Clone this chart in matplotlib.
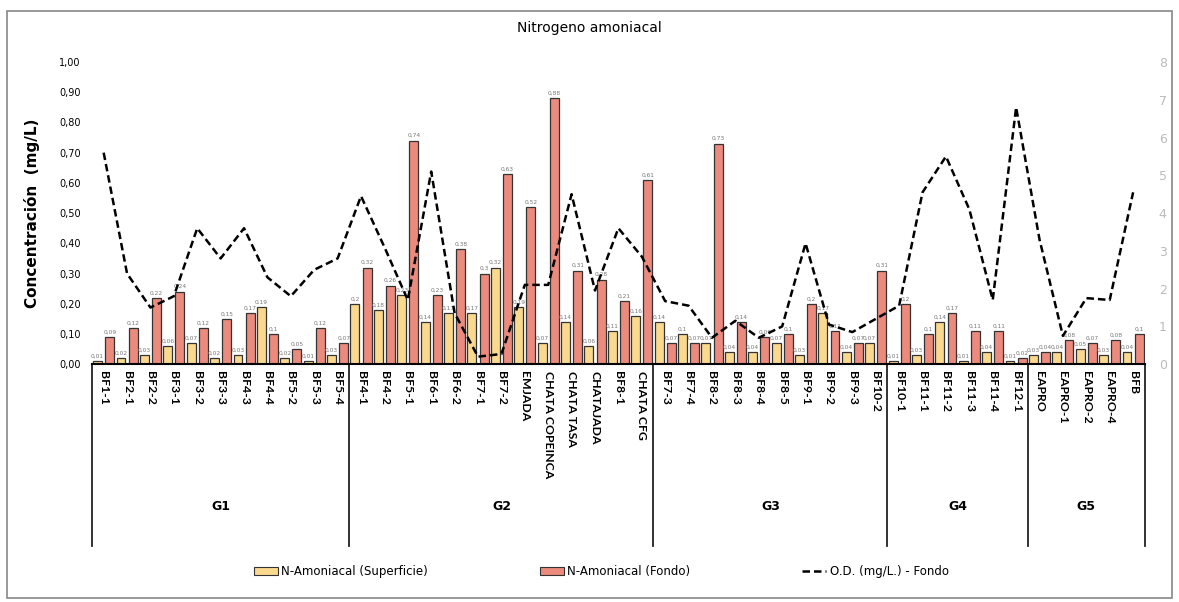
import matplotlib.pyplot as plt
from matplotlib.patches import Rectangle
from matplotlib.lines import Line2D
import numpy as np

categories = ['BF1-1', 'BF2-1', 'BF2-2', 'BF3-1', 'BF3-2', 'BF3-3', 'BF4-3', 'BF4-4', 'BF5-2', 'BF5-3', 'BF5-4',
              'BF4-1', 'BF4-2', 'BF5-1', 'BF6-1', 'BF6-2', 'BF7-1', 'BF7-2', 'EMJADA', 'CHATA COPEINCA',
              'CHATA TASA', 'CHATAJADA', 'BF8-1', 'CHATA CFG',
              'BF7-3', 'BF7-4', 'BF8-2', 'BF8-3', 'BF8-4', 'BF8-5', 'BF9-1', 'BF9-2', 'BF9-3', 'BF10-2',
              'BF10-1', 'BF11-1', 'BF11-2', 'BF11-3', 'BF11-4', 'BF12-1',
              'EAPRO', 'EAPRO-1', 'EAPRO-2', 'EAPRO-4', 'BFB']
groups = ['G1', 'G2', 'G3', 'G4', 'G5']
group_sizes = [11, 13, 10, 6, 5]

superficie = [0.01, 0.02, 0.03, 0.06, 0.07, 0.02, 0.03, 0.19, 0.02, 0.01, 0.03,
              0.20, 0.18, 0.23, 0.14, 0.17, 0.17, 0.32, 0.19, 0.07, 0.14, 0.06, 0.11, 0.16,
              0.14, 0.10, 0.07, 0.04, 0.04, 0.07, 0.03, 0.17, 0.04, 0.07,
              0.01, 0.03, 0.14, 0.01, 0.04, 0.01,
              0.03, 0.04, 0.05, 0.03, 0.04]
fondo = [0.09, 0.12, 0.22, 0.24, 0.12, 0.15, 0.17, 0.10, 0.05, 0.12, 0.07,
         0.32, 0.26, 0.74, 0.23, 0.38, 0.30, 0.63, 0.52, 0.88, 0.31, 0.28, 0.21, 0.61,
         0.07, 0.07, 0.73, 0.14, 0.09, 0.10, 0.20, 0.11, 0.07, 0.31,
         0.20, 0.10, 0.17, 0.11, 0.11, 0.02,
         0.04, 0.08, 0.07, 0.08, 0.10]
od_fondo = [5.6, 2.4, 1.5, 1.8, 3.6, 2.8, 3.6, 2.3, 1.8, 2.5, 2.8,
            4.45, 3.1, 1.7, 5.1, 1.35, 0.2, 0.27, 2.1, 2.1, 4.5, 1.95, 3.6, 2.85,
            1.67, 1.55, 0.7, 1.15, 0.7, 1.0, 3.2, 1.05, 0.85, 1.2,
            1.55, 4.55, 5.5, 4.1, 1.7, 6.8,
            3.3, 0.75, 1.75, 1.7, 4.55]

yellow = '#FAD98E'
red = '#EC8A7E'


def fmt(v):
    s = ('%.2f' % v).rstrip('0').rstrip('.')
    return s.replace('.', ',')


fig = plt.figure(figsize=(11.79, 6.02), dpi=100)
ax = fig.add_axes([0.078, 0.395, 0.893, 0.502])
x = np.arange(len(categories))
w = 0.38

ax.bar(x - 0.26, superficie, w, color=yellow, edgecolor='#333333', linewidth=0.9, zorder=2)
ax.bar(x + 0.26, fondo, w, color=red, edgecolor='#333333', linewidth=0.9, zorder=2)
for xi, s, f in zip(x, superficie, fondo):
    ax.text(xi - 0.26, s + 0.008, fmt(s), ha='center', va='bottom', fontsize=4.2, color='#777777')
    ax.text(xi + 0.26, f + 0.008, fmt(f), ha='center', va='bottom', fontsize=4.2, color='#777777')

ax.set_xlim(-0.5, len(categories) - 0.5)
ax.set_ylim(0, 1.0)
ax.set_yticks(np.arange(0, 1.01, 0.1))
ax.set_yticklabels([('%.2f' % t).replace('.', ',') for t in np.arange(0, 1.01, 0.1)], fontsize=7)
ax.tick_params(axis='y', length=0, pad=8)
ax.set_xticks(x)
ax.set_xticklabels(categories, rotation=-90, fontsize=8.8, fontweight='bold', family='Lato')
ax.tick_params(axis='x', length=0, pad=5)
for side in ['top', 'right', 'left']:
    ax.spines[side].set_visible(False)
ax.spines['bottom'].set_linewidth(1.5)
ax.set_ylabel('Concentración  (mg/L)', fontsize=11, fontweight='bold', labelpad=14)

ax2 = ax.twinx()
ax2.plot(x, od_fondo, color='black', linestyle=(0, (3, 1.6)), linewidth=1.8, zorder=3)
ax2.set_ylim(0, 8)
ax2.set_yticks(range(0, 9))
ax2.tick_params(axis='y', length=0, labelsize=9, labelcolor='#BBBBBB', pad=10)
for side in ['top', 'right', 'left', 'bottom']:
    ax2.spines[side].set_visible(False)

# group separators below the axis
trans = ax.get_xaxis_transform()
bounds = np.concatenate([[0], np.cumsum(group_sizes)]) - 0.5
for b in bounds:
    ax.plot([b, b], [0, -0.6], transform=trans, color='#222222', linewidth=1.3, clip_on=False)
for g, lo, hi in zip(groups, bounds[:-1], bounds[1:]):
    ax.text((lo + hi) / 2, -0.47, g, transform=trans, ha='center', va='center', fontsize=9, fontweight='bold')

fig.text(0.5, 0.953, 'Nitrogeno amoniacal', ha='center', va='center', fontsize=10)

handles = [Rectangle((0, 0), 1, 1, facecolor=yellow, edgecolor='#333333', linewidth=0.8),
           Rectangle((0, 0), 1, 1, facecolor=red, edgecolor='#333333', linewidth=0.8),
           Line2D([0], [0], color='black', linestyle=(0, (3, 1.6)), linewidth=1.8)]
fig.legend(handles, ['N-Amoniacal (Superficie)', 'N-Amoniacal (Fondo)', 'O.D. (mg/L.) - Fondo'],
           loc='center', bbox_to_anchor=(0.51, 0.05), ncol=3, frameon=False, fontsize=8.5,
           columnspacing=9.5, handlelength=2, handletextpad=0.3)

fig.patches.append(Rectangle((0.006, 0.006), 0.988, 0.975, transform=fig.transFigure,
                             fill=False, edgecolor='#888888', linewidth=1.2))

fig.savefig('out.png', dpi=100)
